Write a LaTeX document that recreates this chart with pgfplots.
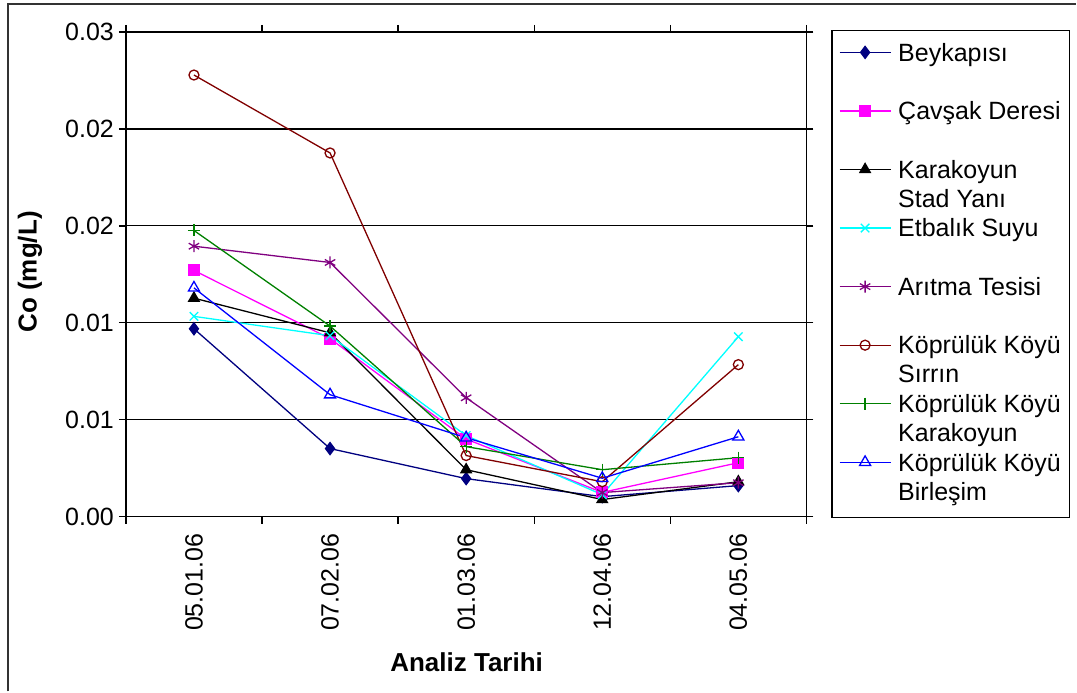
\documentclass[border=0pt]{standalone}
\usepackage{pgfplots}
\pgfplotsset{compat=1.18}
\usepackage{fontspec}
\setmainfont{Liberation Sans}
\definecolor{cNavy}{RGB}{0,0,128}
\definecolor{cMag}{RGB}{255,0,255}
\definecolor{cCyan}{RGB}{0,255,255}
\definecolor{cPurp}{RGB}{128,0,128}
\definecolor{cDRed}{RGB}{128,0,0}
\definecolor{cGreen}{RGB}{0,128,0}
\definecolor{cBlue}{RGB}{0,0,255}
\newcommand\LE[2][16pt]{\raisebox{0pt}[11.3pt][#1]{\begin{tabular}[t]{@{}l@{}}#2\end{tabular}}}
\begin{document}
\begin{tikzpicture}[x=1pt,y=1pt]
\path (0,0) rectangle (538.5,346);
\draw[line width=0.8pt, black!80] (4,0) -- (4,344) -- (538.5,344);
\begin{axis}[
  at={(63pt,87.5pt)}, anchor=south west,
  scale only axis, width=340.5pt, height=242.5pt,
  xmin=-0.5, xmax=4.5, ymin=0, ymax=0.025,
  scaled y ticks=false,
  xtick={-0.5,0.5,1.5,2.5,3.5,4.5}, xticklabels={},
  extra x ticks={0,1,2,3,4},
  extra x tick labels={05.01.06,07.02.06,01.03.06,12.04.06,04.05.06},
  extra x tick style={major tick length=0pt, grid=none,
     tick label style={rotate=90, anchor=east, yshift=0pt, xshift=-5pt}},
  ytick={0,0.005,0.01,0.015,0.02,0.025},
  yticklabels={0.00,0.01,0.01,0.02,0.02,0.03},
  yticklabel style={xshift=1pt},
  ymajorgrids, grid style={black, line width=0.6pt},
  tick align=outside, major tick length=3.5pt,
  tick style={black, line width=0.7pt},
  axis line style={line width=0.8pt},
  tick label style={font=\fontsize{12.5}{14}\selectfont},
  xlabel={Analiz Tarihi}, ylabel={Co (mg/L)},
  every axis x label/.style={at={(axis description cs:0.5007,-0.301)}, anchor=center, font=\fontsize{13}{15}\selectfont\bfseries},
  every axis y label/.style={at={(axis description cs:-0.141,0.505)}, anchor=center, rotate=90, font=\fontsize{13}{15}\selectfont\bfseries},
  legend style={at={(axis description cs:1.0367,1.0041)}, anchor=north west,
    draw=black, line width=0.6pt, inner xsep=3.5pt, inner ysep=3pt,
    font=\fontsize{12.5}{14.5}\selectfont,
    cells={anchor=base west},
    nodes={inner sep=1pt, text depth=},
    column sep=2.5pt, row sep=0pt},
  legend image code/.code={\draw[mark repeat=2,mark phase=2,#1] plot coordinates {(0pt,4.4pt) (12.75pt,4.4pt) (25.5pt,4.4pt)};},
]
\addplot[cNavy, line width=0.65pt, mark=diamond*, mark size=3pt, mark options={fill=cNavy}] coordinates {(0,0.00969) (1,0.00351) (2,0.00196) (3,0.00103) (4,0.0016)};
\addlegendentry{\LE{Beykapısı}}
\addplot[cMag, line width=0.65pt, mark=square*, mark size=2.7pt, mark options={fill=cMag}] coordinates {(0,0.01270) (1,0.00918) (2,0.00400) (3,0.00125) (4,0.00278)};
\addlegendentry{\LE{Çavşak Deresi}}
\addplot[black, line width=0.65pt, mark=triangle*, mark size=3pt, mark options={fill=black}] coordinates {(0,0.01127) (1,0.00948) (2,0.00242) (3,0.00088) (4,0.0018)};
\addlegendentry{\LE{Karakoyun\\Stad Yanı}}
\addplot[cCyan, line width=0.65pt, mark=x, mark size=3pt] coordinates {(0,0.01033) (1,0.00933) (2,0.00418) (3,0.00113) (4,0.00928)};
\addlegendentry{\LE{Etbalık Suyu}}
\addplot[cPurp, line width=0.65pt, mark=asterisk, mark size=3pt] coordinates {(0,0.01395) (1,0.01311) (2,0.00613) (3,0.00124) (4,0.00175)};
\addlegendentry{\LE{Arıtma Tesisi}}
\addplot[cDRed, line width=0.65pt, mark=o, mark size=2.5pt, mark options={fill=white}] coordinates {(0,0.02278) (1,0.01876) (2,0.00315) (3,0.0018) (4,0.00784)};
\addlegendentry{\LE{Köprülük Köyü\\Sırrın}}
\addplot[cGreen, line width=0.65pt, mark=+, mark size=3pt] coordinates {(0,0.01476) (1,0.00983) (2,0.00361) (3,0.00242) (4,0.00304)};
\addlegendentry{\LE{Köprülük Köyü\\Karakoyun}}
\addplot[cBlue, line width=0.65pt, mark=triangle, mark size=3.2pt, mark options={fill=white}] coordinates {(0,0.0118) (1,0.00629) (2,0.00407) (3,0.00198) (4,0.00412)};
\addlegendentry{\LE[19.1pt]{Köprülük Köyü\\Birleşim}}
\end{axis}
\end{tikzpicture}
\end{document}
